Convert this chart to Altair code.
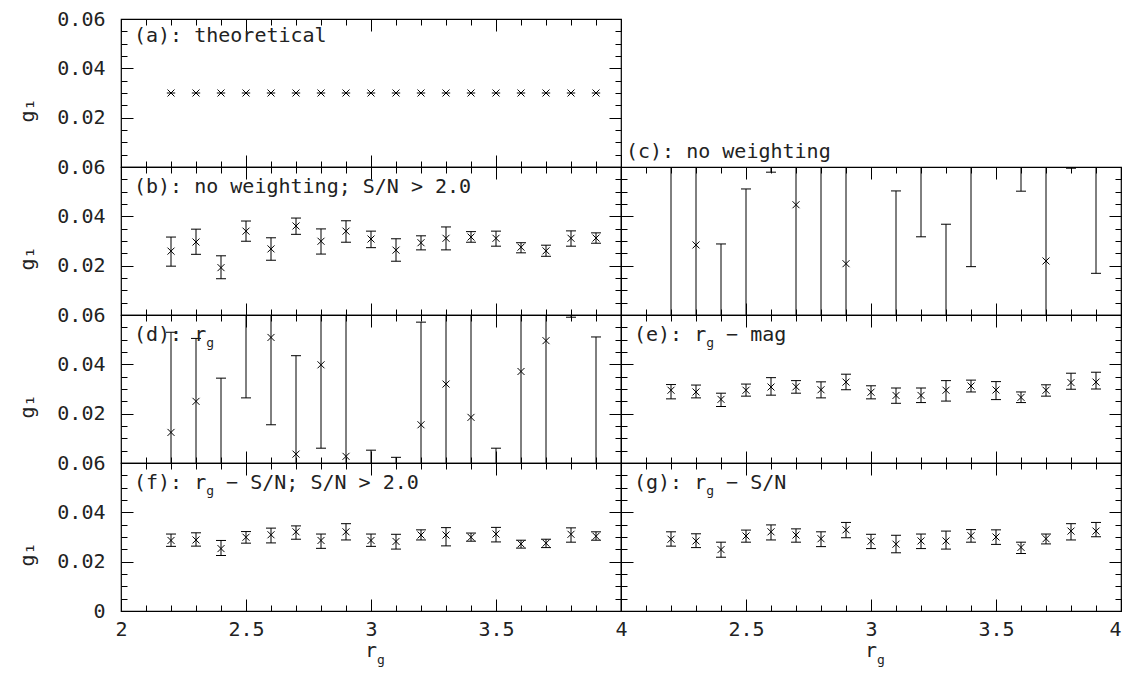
import altair as alt
import pandas as pd

# ---------------- data ----------------
RG = [2.2, 2.3, 2.4, 2.5, 2.6, 2.7, 2.8, 2.9, 3.0, 3.1, 3.2, 3.3, 3.4, 3.5, 3.6, 3.7, 3.8, 3.9]

A_G = [0.03, 0.03, 0.03, 0.03, 0.03, 0.03, 0.03, 0.03, 0.03, 0.03, 0.03, 0.03, 0.03, 0.03, 0.03, 0.03, 0.03, 0.03]

B_G = [0.0259, 0.0296, 0.0192, 0.0340, 0.0268, 0.0361, 0.0299, 0.0340, 0.0308, 0.0263, 0.0293, 0.0311, 0.0316, 0.0311, 0.0275, 0.0260, 0.0311, 0.0312]
B_LO = [0.0198, 0.0246, 0.0147, 0.0299, 0.0222, 0.0327, 0.0247, 0.0295, 0.0273, 0.0218, 0.0264, 0.0264, 0.0295, 0.0279, 0.0252, 0.0238, 0.0279, 0.0291]
B_HI = [0.0316, 0.0348, 0.0240, 0.0381, 0.0313, 0.0393, 0.0349, 0.0382, 0.0340, 0.0309, 0.0321, 0.0357, 0.0338, 0.0340, 0.0293, 0.0283, 0.0341, 0.0333]

C_G = [0.071, 0.0284, -0.012, -0.006, 0.085, 0.0447, 0.068, 0.0208, 0.095, -0.004, 0.075, -0.008, 0.068, -0.030, 0.078, 0.0219, 0.090, 0.066]
C_LO = [-0.040, -0.050, -0.053, -0.063, 0.0579, -0.020, -0.010, -0.060, 0.067, -0.058, 0.0317, -0.053, 0.0196, -0.055, 0.0502, -0.030, 0.0595, 0.0169]
C_HI = [0.180, 0.110, 0.0288, 0.0511, 0.112, 0.110, 0.140, 0.100, 0.123, 0.0503, 0.118, 0.0368, 0.116, -0.005, 0.106, 0.075, 0.120, 0.115]

D_G = [0.0124, 0.0250, -0.004, 0.066, 0.0509, 0.0036, 0.0398, 0.0027, -0.020, -0.012, 0.0155, 0.0320, 0.0185, -0.030, 0.0371, 0.0496, 0.085, -0.004]
D_LO = [-0.028, -0.003, -0.043, 0.0264, 0.0155, -0.036, 0.0060, -0.060, -0.045, -0.026, -0.026, -0.020, -0.040, -0.066, -0.012, -0.010, 0.0591, -0.059]
D_HI = [0.053, 0.0505, 0.0344, 0.106, 0.086, 0.0435, 0.074, 0.066, 0.0052, 0.0023, 0.0571, 0.084, 0.077, 0.0060, 0.086, 0.110, 0.111, 0.0511]

E_G = [0.0295, 0.0288, 0.0258, 0.0295, 0.0308, 0.0309, 0.0297, 0.0328, 0.0287, 0.0274, 0.0274, 0.0295, 0.0312, 0.0296, 0.0266, 0.0295, 0.0326, 0.0328]
E_LO = [0.0260, 0.0264, 0.0229, 0.0271, 0.0275, 0.0283, 0.0264, 0.0297, 0.0260, 0.0242, 0.0245, 0.0251, 0.0288, 0.0257, 0.0245, 0.0271, 0.0299, 0.0300]
E_HI = [0.0318, 0.0316, 0.0283, 0.0320, 0.0346, 0.0334, 0.0329, 0.0360, 0.0313, 0.0304, 0.0304, 0.0334, 0.0336, 0.0330, 0.0288, 0.0317, 0.0364, 0.0368]

F_G = [0.0286, 0.0288, 0.0253, 0.0299, 0.0309, 0.0321, 0.0286, 0.0321, 0.0286, 0.0282, 0.0308, 0.0308, 0.0299, 0.0312, 0.0272, 0.0275, 0.0311, 0.0303]
F_LO = [0.0262, 0.0263, 0.0225, 0.0275, 0.0276, 0.0291, 0.0254, 0.0288, 0.0262, 0.0251, 0.0288, 0.0264, 0.0283, 0.0280, 0.0255, 0.0257, 0.0279, 0.0287]
F_HI = [0.0312, 0.0317, 0.0286, 0.0322, 0.0336, 0.0345, 0.0312, 0.0354, 0.0312, 0.0311, 0.0329, 0.0338, 0.0316, 0.0339, 0.0287, 0.0291, 0.0337, 0.0321]

G_G = [0.0291, 0.0284, 0.0249, 0.0304, 0.0321, 0.0308, 0.0293, 0.0329, 0.0283, 0.0271, 0.0284, 0.0284, 0.0305, 0.0300, 0.0258, 0.0293, 0.0324, 0.0324]
G_LO = [0.0263, 0.0257, 0.0218, 0.0279, 0.0288, 0.0279, 0.0261, 0.0297, 0.0253, 0.0236, 0.0253, 0.0251, 0.0279, 0.0270, 0.0233, 0.0272, 0.0288, 0.0301]
G_HI = [0.0321, 0.0313, 0.0279, 0.0328, 0.0349, 0.0333, 0.0321, 0.0359, 0.0311, 0.0307, 0.0312, 0.0324, 0.0330, 0.0329, 0.0279, 0.0312, 0.0354, 0.0359]

X_LABELS_LEFT = [2, 2.5, 3, 3.5, 4]
X_LABELS_RIGHT = [2.5, 3, 3.5, 4]
Y_LABELS_TOP = [0.02, 0.04, 0.06]
Y_LABELS_BOTTOM = [0, 0.02, 0.04, 0.06]
X_MAJOR = [2, 2.5, 3, 3.5, 4]
X_MINOR = [2.1, 2.2, 2.3, 2.4, 2.6, 2.7, 2.8, 2.9, 3.1, 3.2, 3.3, 3.4, 3.6, 3.7, 3.8, 3.9]
Y_MAJOR = [0, 0.02, 0.04, 0.06]
Y_MINOR = [0.005, 0.01, 0.015, 0.025, 0.03, 0.035, 0.045, 0.05, 0.055]

# ---------------- style ----------------
FONT = "DejaVu Sans Mono"
TXT = "#222222"
W, H = 500, 148
MAJ, MINT = 12, 6
LBL = 20
SUB = 13
CHAR_EM = 1233 / 2048.0   # monospace advance width


def tw(s, size):
    return len(s) * CHAR_EM * size


xs = alt.Scale(domain=[2, 4], nice=False, zero=False)
ys = alt.Scale(domain=[0, 0.06], nice=False, zero=False)

CROSS = "M-1,-1L1,1M-1,1L1,-1"
STAR = "M-1,-1L1,1M-1,1L1,-1M-1.2,0L1.2,0"
CAP = "M-1,0L1,0"

ONE = pd.DataFrame({"k": [0]})


def tick_axis(orient, size, values):
    return alt.Axis(orient=orient, offset=-size, tickSize=size, values=values,
                    labels=False, domain=False, grid=False, ticks=True,
                    tickColor="black", tickWidth=1, title=None)


def holder(df, xaxis, yaxis):
    return alt.Chart(df).mark_point(opacity=0, clip=True).encode(
        x=alt.X("rg:Q", scale=xs, axis=xaxis),
        y=alt.Y("g:Q", scale=ys, axis=yaxis),
    )


def text_layer(s, x, y, size, align="left"):
    return alt.Chart(ONE).mark_text(
        font=FONT, fontSize=size, color=TXT, align=align, baseline="alphabetic"
    ).encode(x=alt.value(x), y=alt.value(y), text=alt.value(s))


def label_layers(prefix, sub=None, suffix="", x0=13, y0=26):
    out = [text_layer(prefix, x0, y0, LBL)]
    if sub:
        sx = x0 + tw(prefix, LBL)
        out.append(text_layer(sub, sx, y0 + 6, SUB))
        if suffix:
            # the suffix follows the subscript after one blank (SVG drops a leading space)
            out.append(text_layer(suffix, sx + tw(sub, SUB) + tw(" ", LBL), y0, LBL))
    return out


def panel(g, lo, hi, label, col, bottom, star=False):
    df = pd.DataFrame({"rg": RG, "g": g, "lo": lo, "hi": hi})
    base = alt.Chart(df)
    X = alt.X("rg:Q", scale=xs, axis=None)
    layers = []
    if not star:
        layers.append(base.mark_rule(clip=True, color="black", strokeWidth=1).encode(
            x=X, y=alt.Y("lo:Q", scale=ys, axis=None), y2="hi:Q"))
        for f in ["lo", "hi"]:
            layers.append(base.mark_point(shape=CAP, size=100, color="black", strokeWidth=1,
                                          opacity=1, clip=True).encode(
                x=X, y=alt.Y(f + ":Q", scale=ys, axis=None)))
    layers.append(base.mark_point(shape=STAR if star else CROSS, size=49, color="black",
                                  strokeWidth=1, opacity=1, clip=True).encode(
        x=X, y=alt.Y("g:Q", scale=ys, axis=None)))
    # inner ticks on all four sides
    layers.append(holder(df, tick_axis("bottom", MAJ, X_MAJOR), tick_axis("left", MAJ, Y_MAJOR)))
    layers.append(holder(df, tick_axis("bottom", MINT, X_MINOR), tick_axis("left", MINT, Y_MINOR)))
    layers.append(holder(df, tick_axis("top", MAJ, X_MAJOR), tick_axis("right", MAJ, Y_MAJOR)))
    layers.append(holder(df, tick_axis("top", MINT, X_MINOR), tick_axis("right", MINT, Y_MINOR)))
    # labelled axes
    xl = None
    yl = None
    if bottom:
        xl = alt.Axis(orient="bottom", values=X_LABELS_LEFT if col == 0 else X_LABELS_RIGHT,
                      format="~g", labelFont=FONT, labelFontSize=20, labelColor=TXT,
                      labelPadding=8, labelFlush=(col == 1), ticks=False, tickSize=0,
                      domain=False, grid=False, title=None)
    if col == 0:
        yl = alt.Axis(orient="left", values=Y_LABELS_BOTTOM if bottom else Y_LABELS_TOP,
                      format="~g", labelFont=FONT, labelFontSize=20, labelColor=TXT,
                      labelPadding=16, labelFlush=False, ticks=False, tickSize=0,
                      domain=False, grid=False, title="g\u2081", titleFont=FONT,
                      titleFontSize=20, titleFontWeight="normal", titleColor=TXT,
                      titleX=-84, titleY=H / 2 + 17)
    if xl is not None or yl is not None:
        layers.append(holder(df, xl, yl))
    layers += label
    if bottom:
        layers.append(text_layer("r", W / 2, H + 46, LBL, align="center"))
        layers.append(text_layer("g", W / 2 + 6, H + 53, SUB))
    return alt.layer(*layers).resolve_axis(x="independent", y="independent").properties(
        width=W, height=H)


pa = panel(A_G, A_G, A_G, label_layers("(a): theoretical", y0=23), 0, False, star=True)
blank = alt.layer(*label_layers("(c): no weighting", x0=5, y0=H - 9)).properties(
    width=W, height=H, view=alt.ViewBackground(stroke="transparent"))
pb = panel(B_G, B_LO, B_HI, label_layers("(b): no weighting; S/N > 2.0"), 0, False)
pc = panel(C_G, C_LO, C_HI, [], 1, False)
pd_ = panel(D_G, D_LO, D_HI, label_layers("(d): r", "g"), 0, False)
pe = panel(E_G, E_LO, E_HI, label_layers("(e): r", "g", "\u2212 mag"), 1, False)
pf = panel(F_G, F_LO, F_HI, label_layers("(f): r", "g", "\u2212 S/N; S/N > 2.0"), 0, True)
pg = panel(G_G, G_LO, G_HI, label_layers("(g): r", "g", "\u2212 S/N"), 1, True)

chart = alt.concat(pa, blank, pb, pc, pd_, pe, pf, pg, columns=2, spacing=0, bounds="flush").properties(
    padding={"left": 8, "top": 0, "right": 0, "bottom": 0},
    background="white",
).configure_view(stroke="black", strokeWidth=1.2).configure_axis(grid=False)

chart.save("out.html", embed_options={"renderer": "svg", "actions": False})
